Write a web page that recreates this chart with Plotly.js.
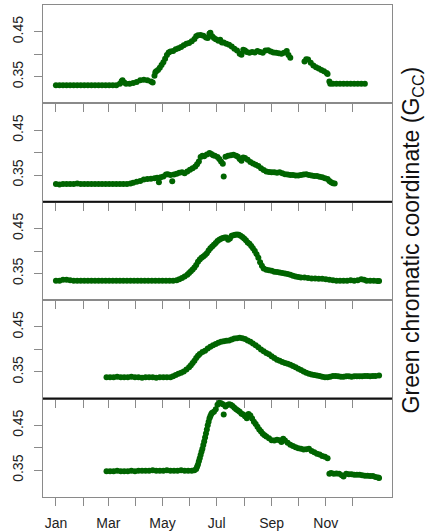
<!DOCTYPE html>
<html>
<head>
<meta charset="utf-8">
<script src="https://cdn.plot.ly/plotly-3.0.1.min.js"></script>
<style>html,body{margin:0;padding:0;background:#fff;}#chart{width:427px;height:532px;}</style>
</head>
<body>
<div id="chart"></div>
<script>
// Day of year and Green chromatic coordinate values, one pair of arrays per panel (top to bottom)
const days1 = [1,5,9,13,17,21,25,29,33,37,41,45,49,53,57,61,65,69,73,75,76,78,80,84,88,92,96,100,104,108,110,112,113,114,116,118,120,122,124,126,128,130,133,136,139,142,145,148,151,154,157,159,161,164,167,170,172,174,175,177,179,181,184,186,188,190,193,196,199,202,205,208,210,212,214,216,219,222,225,228,231,234,237,240,243,246,249,252,255,258,261,263,265,281,283,285,288,291,294,297,300,303,306,307,309,310,313,317,321,325,329,333,337,341,345,349];
const gcc1 = [0.331,0.331,0.331,0.331,0.331,0.331,0.331,0.331,0.331,0.331,0.331,0.331,0.331,0.331,0.331,0.331,0.331,0.331,0.334,0.340,0.342,0.337,0.334,0.334,0.336,0.338,0.342,0.343,0.342,0.339,0.337,0.352,0.360,0.362,0.365,0.370,0.376,0.382,0.390,0.398,0.404,0.406,0.407,0.411,0.413,0.416,0.420,0.423,0.425,0.429,0.434,0.440,0.442,0.443,0.441,0.437,0.436,0.446,0.448,0.440,0.436,0.433,0.430,0.432,0.426,0.426,0.423,0.421,0.417,0.412,0.408,0.401,0.399,0.410,0.408,0.405,0.403,0.405,0.404,0.407,0.405,0.403,0.408,0.409,0.406,0.404,0.403,0.402,0.401,0.403,0.407,0.398,0.392,0.384,0.389,0.388,0.381,0.375,0.371,0.368,0.365,0.362,0.358,0.356,0.339,0.334,0.334,0.334,0.334,0.334,0.334,0.334,0.334,0.334,0.334,0.334];

const days2 = [1,5,9,13,17,21,25,29,33,37,41,45,49,53,57,61,65,69,73,77,81,85,88,92,96,100,104,108,112,115,117,119,122,125,127,130,132,134,137,140,143,146,149,152,155,158,160,162,164,166,168,171,174,176,178,180,183,185,187,189,190,192,195,198,201,204,206,208,210,212,214,217,220,223,226,229,232,235,238,241,244,247,250,253,256,259,262,265,268,271,274,277,280,283,286,289,292,295,298,301,304,307,309,311,313,315];
const gcc2 = [0.330,0.329,0.330,0.330,0.330,0.330,0.331,0.330,0.330,0.330,0.330,0.330,0.330,0.330,0.330,0.330,0.330,0.330,0.330,0.330,0.330,0.331,0.333,0.335,0.337,0.340,0.341,0.342,0.343,0.344,0.334,0.345,0.347,0.351,0.352,0.350,0.336,0.351,0.353,0.355,0.356,0.354,0.358,0.362,0.365,0.369,0.374,0.380,0.390,0.393,0.392,0.396,0.399,0.397,0.394,0.393,0.390,0.386,0.380,0.375,0.347,0.391,0.393,0.394,0.395,0.393,0.391,0.386,0.382,0.389,0.388,0.384,0.379,0.376,0.373,0.370,0.365,0.361,0.358,0.357,0.356,0.356,0.355,0.356,0.354,0.352,0.351,0.350,0.350,0.349,0.349,0.350,0.351,0.352,0.350,0.349,0.348,0.348,0.346,0.345,0.343,0.341,0.337,0.334,0.332,0.331];

const days3 = [1,5,9,13,17,21,25,29,33,37,41,45,49,53,57,61,65,69,73,77,81,85,89,93,97,101,105,109,113,117,121,125,129,133,137,140,143,146,149,151,153,155,157,159,161,163,165,167,169,171,173,175,177,179,181,183,185,187,189,191,193,195,197,199,201,203,205,207,209,211,213,215,217,219,221,223,225,227,229,231,233,235,238,241,244,247,250,253,256,259,262,265,268,271,274,277,281,285,289,293,297,301,305,309,313,317,321,325,329,333,337,341,345,348,351,355,359,363,365];
const gcc3 = [0.334,0.334,0.336,0.336,0.335,0.334,0.334,0.334,0.334,0.334,0.334,0.334,0.334,0.334,0.334,0.334,0.334,0.334,0.334,0.334,0.334,0.334,0.334,0.334,0.334,0.334,0.334,0.334,0.334,0.334,0.334,0.334,0.334,0.334,0.335,0.337,0.340,0.343,0.347,0.351,0.355,0.359,0.363,0.369,0.376,0.381,0.385,0.388,0.391,0.395,0.401,0.406,0.410,0.414,0.418,0.422,0.425,0.427,0.429,0.430,0.430,0.425,0.428,0.434,0.435,0.436,0.437,0.436,0.434,0.431,0.428,0.424,0.419,0.416,0.411,0.406,0.400,0.393,0.385,0.375,0.367,0.361,0.358,0.357,0.356,0.354,0.353,0.352,0.351,0.350,0.349,0.347,0.345,0.343,0.342,0.341,0.341,0.340,0.339,0.339,0.338,0.338,0.337,0.336,0.335,0.334,0.334,0.334,0.334,0.335,0.334,0.335,0.337,0.336,0.334,0.334,0.334,0.333,0.333];

const days4 = [58,62,66,70,74,78,82,86,90,94,98,102,106,110,114,118,122,126,130,133,136,139,142,145,148,151,153,155,157,159,161,163,166,169,172,175,178,181,184,187,190,193,196,199,202,205,208,211,214,217,220,223,226,229,232,235,238,241,244,247,250,253,256,259,262,265,268,271,274,277,280,283,286,289,292,295,298,301,304,307,310,313,316,319,322,325,328,331,334,337,340,343,346,349,352,355,358,361,365];
const gcc4 = [0.338,0.338,0.338,0.339,0.338,0.338,0.338,0.339,0.338,0.338,0.337,0.338,0.338,0.338,0.337,0.338,0.338,0.338,0.338,0.340,0.343,0.346,0.348,0.351,0.355,0.360,0.365,0.370,0.375,0.381,0.386,0.390,0.394,0.397,0.402,0.406,0.409,0.412,0.415,0.417,0.418,0.419,0.420,0.422,0.424,0.425,0.426,0.425,0.423,0.420,0.417,0.413,0.409,0.405,0.400,0.396,0.392,0.389,0.385,0.381,0.377,0.375,0.372,0.370,0.368,0.366,0.363,0.360,0.357,0.354,0.351,0.348,0.346,0.344,0.343,0.342,0.341,0.339,0.338,0.338,0.339,0.341,0.341,0.340,0.339,0.339,0.340,0.340,0.339,0.340,0.340,0.340,0.340,0.341,0.341,0.340,0.341,0.341,0.342];

const days5 = [58,62,66,70,74,78,82,86,90,94,98,102,106,110,114,118,122,126,130,134,138,142,146,150,154,157,159,160,161,162,163,164,165,166,167,168,169,170,171,172,173,174,175,176,177,179,181,183,185,187,189,190,192,194,196,198,200,202,204,206,208,210,212,214,216,218,220,222,224,226,228,230,232,234,236,238,241,244,247,250,253,255,257,259,262,265,268,271,274,277,280,283,286,289,292,295,298,301,304,307,309,311,314,317,320,323,325,328,331,334,337,340,343,346,349,352,355,358,361,364,365];
const gcc5 = [0.348,0.348,0.348,0.349,0.348,0.348,0.348,0.349,0.348,0.349,0.349,0.349,0.349,0.350,0.349,0.349,0.349,0.350,0.349,0.349,0.349,0.350,0.349,0.349,0.349,0.350,0.353,0.358,0.363,0.370,0.377,0.384,0.391,0.398,0.406,0.414,0.423,0.432,0.441,0.450,0.458,0.466,0.471,0.475,0.478,0.480,0.486,0.496,0.500,0.499,0.497,0.474,0.492,0.495,0.497,0.496,0.493,0.489,0.486,0.483,0.480,0.476,0.474,0.470,0.466,0.475,0.472,0.465,0.458,0.453,0.447,0.441,0.436,0.431,0.428,0.425,0.421,0.417,0.416,0.418,0.417,0.413,0.420,0.416,0.411,0.407,0.404,0.401,0.399,0.398,0.396,0.397,0.398,0.393,0.390,0.387,0.385,0.382,0.380,0.377,0.342,0.344,0.342,0.343,0.342,0.339,0.336,0.342,0.341,0.341,0.340,0.340,0.340,0.339,0.338,0.338,0.337,0.337,0.335,0.334,0.333];

const monthTicks = [1,32,60,91,121,152,182,213,244,274,305,335];
const monthLabels = ["Jan","","Mar","","May","","Jul","","Sep","","Nov",""];
const yTicks = [0.35,0.40,0.45];
const yLabels = ["0.35","","0.45"];

const allDays = [days1,days2,days3,days4,days5];
const allGcc = [gcc1,gcc2,gcc3,gcc4,gcc5];

const green = "#006400";
const frame = "#8a8a8a";
const font = "Liberation Sans, Arial, Helvetica, sans-serif";

const data = [];
const layout = {
  width: 427, height: 532,
  margin: {l: 43, r: 35, t: 5, b: 35},
  paper_bgcolor: "#fff", plot_bgcolor: "#fff",
  showlegend: false,
  font: {family: font, color: "#222"},
  shapes: [],
  annotations: [{
    xref: "paper", yref: "paper", x: 1.058, y: 0.522,
    xanchor: "center", yanchor: "middle", textangle: -90, showarrow: false,
    text: "Green chromatic coordinate (G<sub>CC</sub>)",
    font: {family: font, size: 23, color: "#111"}
  }]
};

for (let i = 0; i < 5; i++) {
  const s = i === 0 ? "" : String(i + 1);
  data.push({
    type: "scatter", mode: "markers",
    x: allDays[i], y: allGcc[i],
    xaxis: "x" + s, yaxis: "y" + s,
    marker: {color: green, size: 6, line: {width: 0}},
    hoverinfo: "skip"
  });
  const top = 1 - i * 0.2, bot = 1 - (i + 1) * 0.2;
  layout["xaxis" + s] = {
    domain: [0, 1], anchor: "y" + s,
    range: [-13.56, 379.56],
    tickmode: "array", tickvals: monthTicks, ticktext: monthLabels,
    ticks: "outside", ticklen: 8, tickwidth: 1, tickcolor: frame,
    showticklabels: i === 4,
    tickfont: {family: font, size: 14, color: "#222"},
    ticklabelstandoff: 5,
    showline: true, linecolor: frame, linewidth: 1, mirror: true,
    showgrid: false, zeroline: false, fixedrange: true
  };
  layout["yaxis" + s] = {
    domain: [bot, top], anchor: "x" + s,
    range: [0.2905, 0.5095],
    tickmode: "array", tickvals: yTicks, ticktext: yLabels,
    tickangle: -90,
    ticks: "outside", ticklen: 8, tickwidth: 1, tickcolor: frame,
    tickfont: {family: font, size: 14, color: "#222"},
    ticklabelstandoff: 5,
    showline: true, linecolor: frame, linewidth: 1, mirror: true,
    showgrid: false, zeroline: false, fixedrange: true
  };
}
// darker dividing lines between panels 2/3 and 4/5
[0.6, 0.2].forEach(function (yy) {
  layout.shapes.push({type: "line", xref: "paper", yref: "paper", x0: 0, x1: 1, y0: yy, y1: yy,
    line: {color: "#111", width: 2}});
});

Plotly.newPlot("chart", data, layout, {staticPlot: true, displayModeBar: false});
</script>
</body>
</html>
